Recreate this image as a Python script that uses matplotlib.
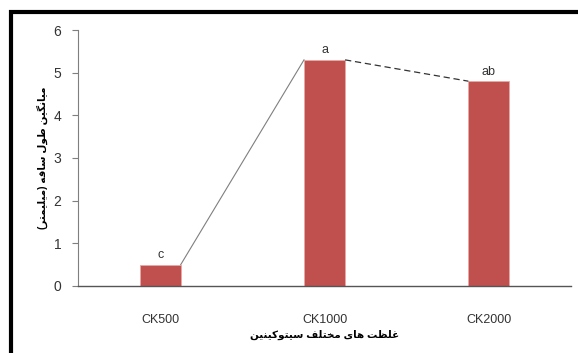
import matplotlib
matplotlib.use("Agg")
import matplotlib.pyplot as plt
from matplotlib.patches import Rectangle

plt.rcParams['font.family'] = ['Liberation Sans', 'DejaVu Sans']

# mean stem length per cytokinin concentration
treatments = ['CK500', 'CK1000', 'CK2000']
stem_length = [0.5, 5.3, 4.8]
groups = ['c', 'a', 'ab']
y_ticks = [0, 1, 2, 3, 4, 5, 6]

ylabel_fa = 'میانگین طول ساقه (میلیمتر)'
xlabel_fa = 'غلظت های مختلف سیتوکینین'

# contextual forms: isolated, final, initial, medial
FORMS = {
    'ا': ('\uFE8D', '\uFE8E', None, None),
    'ت': ('\uFE95', '\uFE96', '\uFE97', '\uFE98'),
    'خ': ('\uFEA5', '\uFEA6', '\uFEA7', '\uFEA8'),
    'ر': ('\uFEAD', '\uFEAE', None, None),
    'س': ('\uFEB1', '\uFEB2', '\uFEB3', '\uFEB4'),
    'ط': ('\uFEC1', '\uFEC2', '\uFEC3', '\uFEC4'),
    'ظ': ('\uFEC5', '\uFEC6', '\uFEC7', '\uFEC8'),
    'غ': ('\uFECD', '\uFECE', '\uFECF', '\uFED0'),
    'ف': ('\uFED1', '\uFED2', '\uFED3', '\uFED4'),
    'ق': ('\uFED5', '\uFED6', '\uFED7', '\uFED8'),
    'ل': ('\uFEDD', '\uFEDE', '\uFEDF', '\uFEE0'),
    'م': ('\uFEE1', '\uFEE2', '\uFEE3', '\uFEE4'),
    'ن': ('\uFEE5', '\uFEE6', '\uFEE7', '\uFEE8'),
    'ه': ('\uFEE9', '\uFEEA', '\uFEEB', '\uFEEC'),
    'و': ('\uFEED', '\uFEEE', None, None),
    'ک': ('\uFB8E', '\uFB8F', '\uFB90', '\uFB91'),
    'گ': ('\uFB92', '\uFB93', '\uFB94', '\uFB95'),
    'ی': ('\uFBFC', '\uFBFD', '\uFBFE', '\uFBFF'),
}


def shape(s):
    # join letters and lay them out right-to-left, since matplotlib does no shaping
    out = []
    for i, ch in enumerate(s):
        if ch not in FORMS:
            out.append(ch)
            continue
        prev = s[i - 1] if i > 0 else ''
        nxt = s[i + 1] if i + 1 < len(s) else ''
        iso, fin, ini, med = FORMS[ch]
        j_prev = prev in FORMS and FORMS[prev][2] is not None
        j_next = ini is not None and nxt in FORMS
        if j_prev and j_next:
            out.append(med)
        elif j_prev:
            out.append(fin)
        elif j_next:
            out.append(ini)
        else:
            out.append(iso)
    vis = ''.join(reversed(out))
    return vis.translate(str.maketrans('()', ')('))


fig = plt.figure(figsize=(5.78, 3.53), dpi=100)
ax = fig.add_axes([0.135, 0.19, 0.853, 0.725])

x = list(range(len(treatments)))
w = 0.25
ax.bar(x, stem_length, width=w, color='#C0504D', edgecolor='#E8A8A6', linewidth=0.6, zorder=2)

# connecting lines between bar corners
ax.plot([x[0] + w / 2, x[1] - w / 2], [stem_length[0], stem_length[1]],
        color='#7F7F7F', lw=0.8, zorder=3)
ax.plot([x[1] + w / 2, x[2] - w / 2], [stem_length[1], stem_length[2]],
        color='#333333', lw=0.9, ls=(0, (5, 3)), zorder=3)

for xi, v, g in zip(x, stem_length, groups):
    ax.text(xi, v + 0.08, g, ha='center', va='bottom', fontsize=9, color='#333333')

ax.set_xlim(-0.5, 2.5)
ax.set_ylim(0, 6)
ax.set_yticks(y_ticks)
ax.set_xticks(x)
ax.set_xticklabels(treatments, fontsize=9, color='#333333')
ax.tick_params(axis='x', length=0, pad=20)
ax.tick_params(axis='y', length=4, width=0.8, color='#7F7F7F', pad=8, labelsize=10, labelcolor='#333333')

for side in ['top', 'right']:
    ax.spines[side].set_visible(False)
ax.spines['left'].set_color('#7F7F7F')
ax.spines['left'].set_linewidth(0.8)
ax.spines['bottom'].set_color('#555555')
ax.spines['bottom'].set_linewidth(1.0)

ax.set_ylabel(shape(ylabel_fa), fontsize=7.5, fontweight='bold', labelpad=4)
ax.set_xlabel(shape(xlabel_fa), fontsize=7.5, fontweight='bold', labelpad=3)

# black frame around the figure (cut off at the right and bottom)
fig.add_artist(Rectangle((11 / 578, -0.2), 1.2, 1.2 - 12 / 353,
                         transform=fig.transFigure, fill=False,
                         edgecolor='black', linewidth=3, clip_on=False))

fig.savefig('out.png', dpi=100)
